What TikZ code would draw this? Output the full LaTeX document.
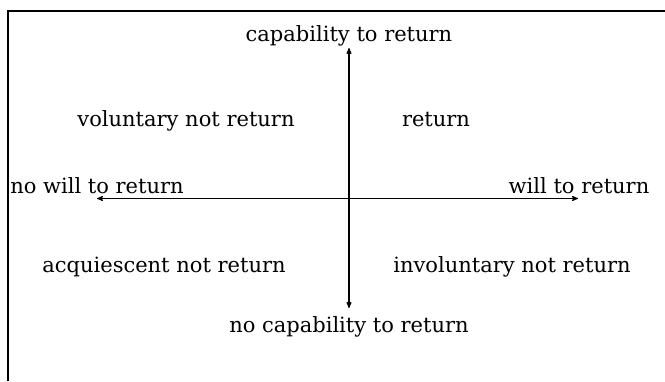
\documentclass[tikz,border=0pt]{standalone}
\usepackage{fontspec}
\setmainfont{DejaVu Serif}
\usepackage{tikz}
\usetikzlibrary{positioning,arrows}

\begin{document}
\begin{tikzpicture}[x=1pt,y=1pt,>=stealth',font=\fontsize{21}{25}\selectfont,
    axis/.style={<->,line width=1.1pt},
    lab/.style={anchor=base,inner sep=0pt}]
          \useasboundingbox (0,0) rectangle (665,381);
          % frame
          \draw [line width=2.4pt] (8,0) -- (8,370) -- (670,370);
          % axes
          \coordinate (top) at (349,333);
          \coordinate (bottom) at (349,73);
          \coordinate (left) at (97,182.5);
          \coordinate (right) at (578,182.5);
          \draw [axis] (bottom) -- (top);
          \draw [axis] (left) -- (right);
          \node [lab] (cap) at (349,339.3) {capability to return};
          \node [lab] (nocap) at (349,49) {no capability to return};
          \node [lab] (nowill) at (97,187.7) {no will to return};
          \node [lab] (will) at (579,187.7) {will to return};
          % quadrants
          \node [lab] (vol) at (186,254) {voluntary not return};
          \node [lab] (ret) at (436,254) {return};
          \node [lab] (acq) at (164,109) {acquiescent not return};
          \node [lab] (invol) at (512,109) {involuntary not return};
        \end{tikzpicture}
\end{document}
